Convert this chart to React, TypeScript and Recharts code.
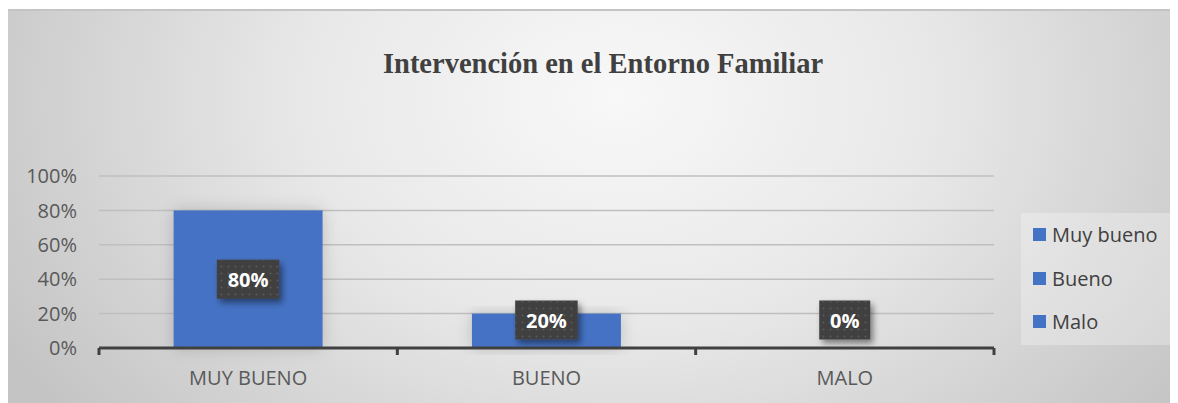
import React from "react";
import { BarChart, Bar, XAxis, YAxis, CartesianGrid } from "recharts";

const categories = ["MUY BUENO", "BUENO", "MALO"];
const legendNames = ["Muy bueno", "Bueno", "Malo"];
const values = [80, 20, 0];
const yTicks = [0, 20, 40, 60, 80, 100];

const BLUE = "#4472C4";
const FONT = "'Open Sans', 'Noto Sans', sans-serif";

const data = categories.map((name, i) => ({ name, value: values[i] }));

// category tick: label plus the boundary tick marks Excel draws between groups
function CategoryTick(props: any) {
  const { x, y, payload, index, visibleTicksCount, width } = props;
  const half =
    payload && payload.offset ? payload.offset : width / (visibleTicksCount * 2);
  return (
    <g>
      <line x1={x - half} x2={x - half} y1={y} y2={y + 7} stroke="#404040" strokeWidth={3} />
      {index === visibleTicksCount - 1 && (
        <line x1={x + half} x2={x + half} y1={y} y2={y + 7} stroke="#404040" strokeWidth={3} />
      )}
      <text x={x} y={y + 37} textAnchor="middle" fill="#595959" fontSize={20} fontFamily={FONT}>
        {payload.value}
      </text>
    </g>
  );
}

// bar plus its data label box (drawn here so a zero bar still gets "0%")
function BarWithLabel(props: any) {
  const { x, y, width, height, value } = props;
  const v = Array.isArray(value) ? value[1] - value[0] : value;
  const text = `${v}%`;
  const digits = String(v).length;
  const boxW = digits * 11.5 + 17.5 + 22;
  const boxH = 39;
  const cx = x + width / 2;
  const cy = Math.min(y + height / 2, y + height - 28);
  return (
    <g>
      {height > 0 && (
        <rect x={x} y={y} width={width} height={height} fill={BLUE} filter="url(#barShadow)" />
      )}
      <g filter="url(#labelShadow)">
        <rect x={cx - boxW / 2} y={cy - boxH / 2} width={boxW} height={boxH} fill="#404040" />
        <rect x={cx - boxW / 2} y={cy - boxH / 2} width={boxW} height={boxH} fill="url(#dots)" />
      </g>
      <text
        x={cx}
        y={cy + 7.5}
        textAnchor="middle"
        fill="#ffffff"
        fontSize={20}
        fontWeight={700}
        fontFamily={FONT}
      >
        {text}
      </text>
    </g>
  );
}

export default function App() {
  return (
    <div
      style={{
        position: "relative",
        width: 1170,
        height: 394,
        marginTop: 1,
        borderTop: "2px solid #c4c4c4",
        background:
          "radial-gradient(ellipse 60% 130% at 52% 22%, #f8f8f8 0%, #e8e8e8 45%, #c4c4c4 100%)",
      }}
    >
      <div
        style={{
          position: "absolute",
          left: 0,
          top: 37,
          width: 1190,
          textAlign: "center",
          fontFamily: "'Liberation Serif', 'Times New Roman', serif",
          fontWeight: 700,
          fontSize: 28.5,
          color: "#404040",
        }}
      >
        Intervención en el Entorno Familiar
      </div>
      <div
        style={{
          position: "absolute",
          left: 1013,
          top: 202,
          width: 156,
          height: 132,
          background: "rgba(255,255,255,0.28)",
          boxSizing: "border-box",
          paddingTop: 0,
          paddingLeft: 12,
        }}
      >
        {legendNames.map((n) => (
          <div
            key={n}
            style={{
              display: "flex",
              alignItems: "center",
              height: 43.5,
              fontFamily: FONT,
              fontSize: 20,
              color: "#404040",
            }}
          >
            <span
              style={{
                display: "inline-block",
                width: 13,
                height: 13,
                background: BLUE,
                marginRight: 6,
              }}
            />
            {n}
          </div>
        ))}
      </div>
      <BarChart
        width={1170}
        height={392}
        data={data}
        margin={{ top: 165, right: 184, bottom: 5, left: 11 }}
        barCategoryGap="25%"
        style={{ position: "absolute", left: 0, top: 0 }}
      >
        <defs>
          <pattern id="dots" width={7} height={7} patternUnits="userSpaceOnUse">
            <circle cx={3.5} cy={3.5} r={1} fill="#5a5a5a" />
          </pattern>
          <filter id="labelShadow" x="-30%" y="-30%" width="160%" height="170%">
            <feDropShadow dx={3} dy={4} stdDeviation={3} floodColor="#000" floodOpacity={0.45} />
          </filter>
          <filter id="barShadow" x="-20%" y="-20%" width="140%" height="140%">
            <feDropShadow dx={0} dy={0} stdDeviation={8} floodColor="#000" floodOpacity={0.18} />
          </filter>
        </defs>
        <CartesianGrid vertical={false} stroke="#bfbfbf" strokeWidth={1.5} />
        <XAxis
          dataKey="name"
          height={50}
          axisLine={{ stroke: "#404040", strokeWidth: 3 }}
          tickLine={false}
          tickSize={0}
          tickMargin={0}
          tick={<CategoryTick />}
          interval={0}
        />
        <YAxis
          width={80}
          domain={[0, 100]}
          ticks={yTicks}
          axisLine={false}
          tickLine={false}
          tickMargin={16}
          tickFormatter={(v) => `${v}%`}
          tick={{ fill: "#595959", fontSize: 20, fontFamily: FONT }}
        />
        <Bar dataKey="value" fill={BLUE} shape={<BarWithLabel />} isAnimationActive={false} />
      </BarChart>
    </div>
  );
}
